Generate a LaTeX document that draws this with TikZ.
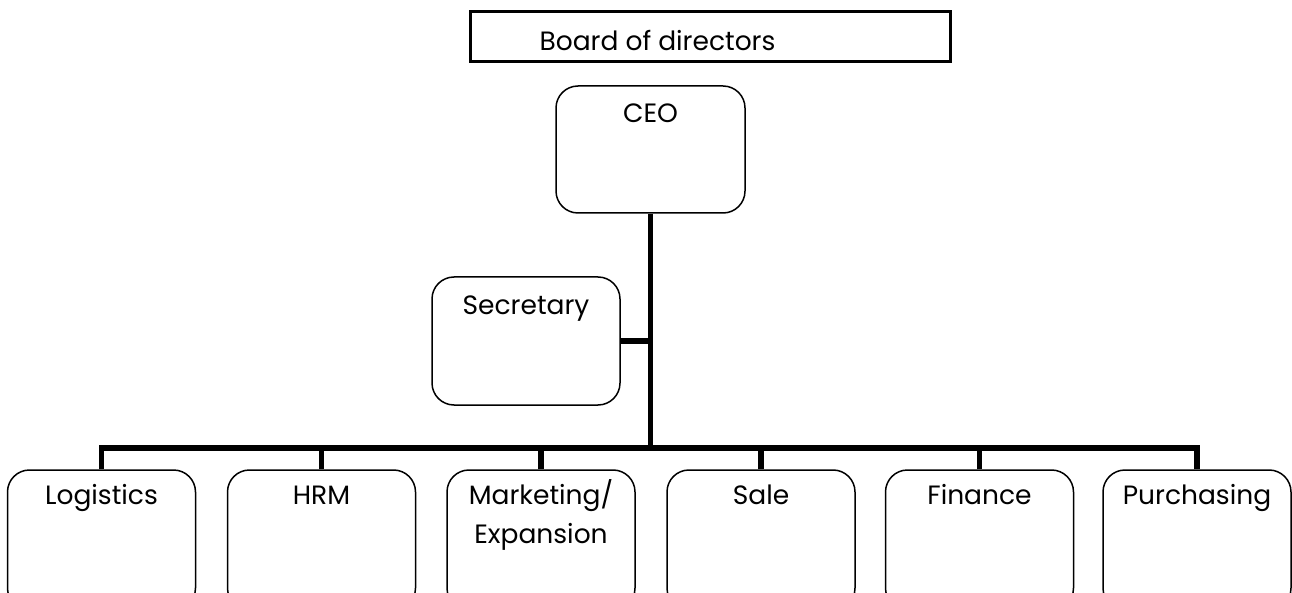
\documentclass[tikz,border=0pt]{standalone}
\usepackage{fontspec}
\setmainfont{Poppins}
\begin{document}
\begin{tikzpicture}[x=1pt,y=-1pt,
  box/.style={draw,line width=1.5pt,rounded corners=22pt,minimum width=188pt,minimum height=128pt,inner sep=0pt},
  boardbox/.style={draw,line width=3pt,minimum width=480pt,minimum height=50pt,inner sep=0pt},
  lab/.style={anchor=base,inner sep=0pt,font=\fontsize{26.5}{39}\selectfont,align=center},
  conn/.style={line width=5.5pt}]
\useasboundingbox (0,0) rectangle (1292,593);
\clip (0,0) rectangle (1292,593);
\node[boardbox,label={[lab,anchor=center,xshift=-53pt,yshift=-4pt]center:Board of directors}] (board) at (710.5,37) {};
\node[box,minimum width=189pt,minimum height=127pt,label={[lab,yshift=-37pt]north:CEO}] (ceo) at (650.5,149.5) {};
\node[box,label={[lab,yshift=-38pt]north:Secretary}] (sec) at (526,341) {};
\coordinate (busy) at (0,448);
\foreach \n/\x/\t in {log/101.5/Logistics,hrm/321.5/HRM,sal/761/Sale,fin/979.5/Finance,pur/1197/Purchasing}{
  \node[box,minimum height=140pt,label={[lab,yshift=-35pt]north:\t}] (\n) at (\x,540) {};
}
\node[box,minimum height=140pt,label={[lab,anchor=north,yshift=-10pt]north:Marketing/\\Expansion}] (mkt) at (541,540) {};
\draw[conn] (ceo.south) -- (ceo.south |- busy);
\draw[conn] (sec.east) -- (sec.east -| ceo.south);
\draw[conn,line cap=rect] (log.north |- busy) -- (pur.north |- busy);
\foreach \n in {log,hrm,mkt,sal,fin,pur}{
  \draw[conn] (\n.north) -- (\n.north |- busy);
}
\end{tikzpicture}
\end{document}
